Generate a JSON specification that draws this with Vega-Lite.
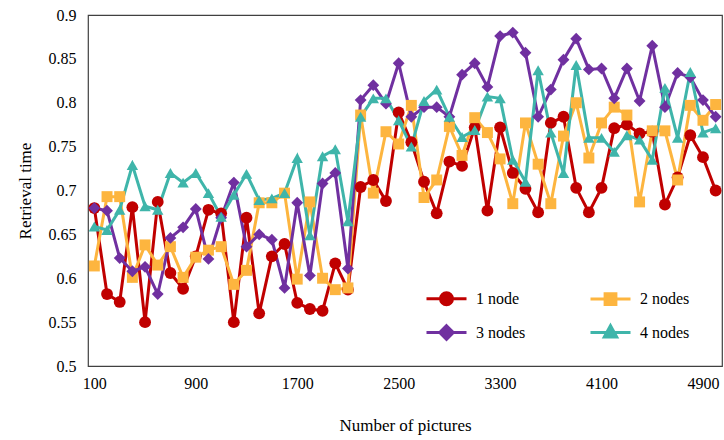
{
"$schema": "https://vega.github.io/schema/vega-lite/v6.json",
"width": 634, "height": 351,
"autosize": "none",
"padding": {"left": 88, "top": 15, "right": 2, "bottom": 74},
"background": "white",
"config": {"view": {"stroke": "#404040", "strokeWidth": 1.2}, "font": "Liberation Serif"},
"data": {"values": [
{"pictures":100,"series":"1 node","time":0.68},{"pictures":200,"series":"1 node","time":0.582},{"pictures":300,"series":"1 node","time":0.573},{"pictures":400,"series":"1 node","time":0.681},{"pictures":500,"series":"1 node","time":0.55},{"pictures":600,"series":"1 node","time":0.687},{"pictures":700,"series":"1 node","time":0.606},{"pictures":800,"series":"1 node","time":0.588},{"pictures":900,"series":"1 node","time":0.625},{"pictures":1000,"series":"1 node","time":0.678},
{"pictures":1100,"series":"1 node","time":0.674},{"pictures":1200,"series":"1 node","time":0.55},{"pictures":1300,"series":"1 node","time":0.669},{"pictures":1400,"series":"1 node","time":0.56},{"pictures":1500,"series":"1 node","time":0.625},{"pictures":1600,"series":"1 node","time":0.639},{"pictures":1700,"series":"1 node","time":0.572},{"pictures":1800,"series":"1 node","time":0.565},{"pictures":1900,"series":"1 node","time":0.563},{"pictures":2000,"series":"1 node","time":0.617},
{"pictures":2100,"series":"1 node","time":0.587},{"pictures":2200,"series":"1 node","time":0.704},{"pictures":2300,"series":"1 node","time":0.712},{"pictures":2400,"series":"1 node","time":0.688},{"pictures":2500,"series":"1 node","time":0.789},{"pictures":2600,"series":"1 node","time":0.755},{"pictures":2700,"series":"1 node","time":0.71},{"pictures":2800,"series":"1 node","time":0.674},{"pictures":2900,"series":"1 node","time":0.733},{"pictures":3000,"series":"1 node","time":0.728},
{"pictures":3100,"series":"1 node","time":0.772},{"pictures":3200,"series":"1 node","time":0.677},{"pictures":3300,"series":"1 node","time":0.772},{"pictures":3400,"series":"1 node","time":0.72},{"pictures":3500,"series":"1 node","time":0.702},{"pictures":3600,"series":"1 node","time":0.675},{"pictures":3700,"series":"1 node","time":0.777},{"pictures":3800,"series":"1 node","time":0.784},{"pictures":3900,"series":"1 node","time":0.703},{"pictures":4000,"series":"1 node","time":0.675},
{"pictures":4100,"series":"1 node","time":0.703},{"pictures":4200,"series":"1 node","time":0.771},{"pictures":4300,"series":"1 node","time":0.775},{"pictures":4400,"series":"1 node","time":0.765},{"pictures":4500,"series":"1 node","time":0.767},{"pictures":4600,"series":"1 node","time":0.684},{"pictures":4700,"series":"1 node","time":0.715},{"pictures":4800,"series":"1 node","time":0.763},{"pictures":4900,"series":"1 node","time":0.738},{"pictures":5000,"series":"1 node","time":0.70},
{"pictures":100,"series":"2 nodes","time":0.614},{"pictures":200,"series":"2 nodes","time":0.693},{"pictures":300,"series":"2 nodes","time":0.693},{"pictures":400,"series":"2 nodes","time":0.601},{"pictures":500,"series":"2 nodes","time":0.638},{"pictures":600,"series":"2 nodes","time":0.615},{"pictures":700,"series":"2 nodes","time":0.636},{"pictures":800,"series":"2 nodes","time":0.601},{"pictures":900,"series":"2 nodes","time":0.624},{"pictures":1000,"series":"2 nodes","time":0.632},
{"pictures":1100,"series":"2 nodes","time":0.636},{"pictures":1200,"series":"2 nodes","time":0.593},{"pictures":1300,"series":"2 nodes","time":0.609},{"pictures":1400,"series":"2 nodes","time":0.686},{"pictures":1500,"series":"2 nodes","time":0.686},{"pictures":1600,"series":"2 nodes","time":0.697},{"pictures":1700,"series":"2 nodes","time":0.599},{"pictures":1800,"series":"2 nodes","time":0.687},{"pictures":1900,"series":"2 nodes","time":0.6},{"pictures":2000,"series":"2 nodes","time":0.587},
{"pictures":2100,"series":"2 nodes","time":0.589},{"pictures":2200,"series":"2 nodes","time":0.786},{"pictures":2300,"series":"2 nodes","time":0.697},{"pictures":2400,"series":"2 nodes","time":0.767},{"pictures":2500,"series":"2 nodes","time":0.753},{"pictures":2600,"series":"2 nodes","time":0.797},{"pictures":2700,"series":"2 nodes","time":0.692},{"pictures":2800,"series":"2 nodes","time":0.712},{"pictures":2900,"series":"2 nodes","time":0.773},{"pictures":3000,"series":"2 nodes","time":0.74},
{"pictures":3100,"series":"2 nodes","time":0.783},{"pictures":3200,"series":"2 nodes","time":0.766},{"pictures":3300,"series":"2 nodes","time":0.736},{"pictures":3400,"series":"2 nodes","time":0.685},{"pictures":3500,"series":"2 nodes","time":0.777},{"pictures":3600,"series":"2 nodes","time":0.73},{"pictures":3700,"series":"2 nodes","time":0.685},{"pictures":3800,"series":"2 nodes","time":0.762},{"pictures":3900,"series":"2 nodes","time":0.8},{"pictures":4000,"series":"2 nodes","time":0.737},
{"pictures":4100,"series":"2 nodes","time":0.777},{"pictures":4200,"series":"2 nodes","time":0.795},{"pictures":4300,"series":"2 nodes","time":0.786},{"pictures":4400,"series":"2 nodes","time":0.687},{"pictures":4500,"series":"2 nodes","time":0.768},{"pictures":4600,"series":"2 nodes","time":0.768},{"pictures":4700,"series":"2 nodes","time":0.712},{"pictures":4800,"series":"2 nodes","time":0.797},{"pictures":4900,"series":"2 nodes","time":0.78},{"pictures":5000,"series":"2 nodes","time":0.798},
{"pictures":100,"series":"3 nodes","time":0.68},{"pictures":200,"series":"3 nodes","time":0.677},{"pictures":300,"series":"3 nodes","time":0.623},{"pictures":400,"series":"3 nodes","time":0.608},{"pictures":500,"series":"3 nodes","time":0.613},{"pictures":600,"series":"3 nodes","time":0.582},{"pictures":700,"series":"3 nodes","time":0.646},{"pictures":800,"series":"3 nodes","time":0.658},{"pictures":900,"series":"3 nodes","time":0.679},{"pictures":1000,"series":"3 nodes","time":0.622},
{"pictures":1100,"series":"3 nodes","time":0.669},{"pictures":1200,"series":"3 nodes","time":0.709},{"pictures":1300,"series":"3 nodes","time":0.636},{"pictures":1400,"series":"3 nodes","time":0.65},{"pictures":1500,"series":"3 nodes","time":0.644},{"pictures":1600,"series":"3 nodes","time":0.589},{"pictures":1700,"series":"3 nodes","time":0.686},{"pictures":1800,"series":"3 nodes","time":0.603},{"pictures":1900,"series":"3 nodes","time":0.708},{"pictures":2000,"series":"3 nodes","time":0.72},
{"pictures":2100,"series":"3 nodes","time":0.611},{"pictures":2200,"series":"3 nodes","time":0.803},{"pictures":2300,"series":"3 nodes","time":0.82},{"pictures":2400,"series":"3 nodes","time":0.799},{"pictures":2500,"series":"3 nodes","time":0.845},{"pictures":2600,"series":"3 nodes","time":0.784},{"pictures":2700,"series":"3 nodes","time":0.795},{"pictures":2800,"series":"3 nodes","time":0.795},{"pictures":2900,"series":"3 nodes","time":0.784},{"pictures":3000,"series":"3 nodes","time":0.832},
{"pictures":3100,"series":"3 nodes","time":0.845},{"pictures":3200,"series":"3 nodes","time":0.818},{"pictures":3300,"series":"3 nodes","time":0.876},{"pictures":3400,"series":"3 nodes","time":0.88},{"pictures":3500,"series":"3 nodes","time":0.857},{"pictures":3600,"series":"3 nodes","time":0.784},{"pictures":3700,"series":"3 nodes","time":0.815},{"pictures":3800,"series":"3 nodes","time":0.849},{"pictures":3900,"series":"3 nodes","time":0.873},{"pictures":4000,"series":"3 nodes","time":0.838},
{"pictures":4100,"series":"3 nodes","time":0.839},{"pictures":4200,"series":"3 nodes","time":0.805},{"pictures":4300,"series":"3 nodes","time":0.839},{"pictures":4400,"series":"3 nodes","time":0.802},{"pictures":4500,"series":"3 nodes","time":0.865},{"pictures":4600,"series":"3 nodes","time":0.795},{"pictures":4700,"series":"3 nodes","time":0.834},{"pictures":4800,"series":"3 nodes","time":0.829},{"pictures":4900,"series":"3 nodes","time":0.803},{"pictures":5000,"series":"3 nodes","time":0.784},
{"pictures":100,"series":"4 nodes","time":0.659},{"pictures":200,"series":"4 nodes","time":0.655},{"pictures":300,"series":"4 nodes","time":0.678},{"pictures":400,"series":"4 nodes","time":0.729},{"pictures":500,"series":"4 nodes","time":0.682},{"pictures":600,"series":"4 nodes","time":0.678},{"pictures":700,"series":"4 nodes","time":0.72},{"pictures":800,"series":"4 nodes","time":0.709},{"pictures":900,"series":"4 nodes","time":0.72},{"pictures":1000,"series":"4 nodes","time":0.697},
{"pictures":1100,"series":"4 nodes","time":0.67},{"pictures":1200,"series":"4 nodes","time":0.695},{"pictures":1300,"series":"4 nodes","time":0.719},{"pictures":1400,"series":"4 nodes","time":0.689},{"pictures":1500,"series":"4 nodes","time":0.691},{"pictures":1600,"series":"4 nodes","time":0.697},{"pictures":1700,"series":"4 nodes","time":0.737},{"pictures":1800,"series":"4 nodes","time":0.649},{"pictures":1900,"series":"4 nodes","time":0.739},{"pictures":2000,"series":"4 nodes","time":0.747},
{"pictures":2100,"series":"4 nodes","time":0.665},{"pictures":2200,"series":"4 nodes","time":0.784},{"pictures":2300,"series":"4 nodes","time":0.805},{"pictures":2400,"series":"4 nodes","time":0.805},{"pictures":2500,"series":"4 nodes","time":0.78},{"pictures":2600,"series":"4 nodes","time":0.75},{"pictures":2700,"series":"4 nodes","time":0.802},{"pictures":2800,"series":"4 nodes","time":0.815},{"pictures":2900,"series":"4 nodes","time":0.784},{"pictures":3000,"series":"4 nodes","time":0.761},
{"pictures":3100,"series":"4 nodes","time":0.769},{"pictures":3200,"series":"4 nodes","time":0.807},{"pictures":3300,"series":"4 nodes","time":0.805},{"pictures":3400,"series":"4 nodes","time":0.735},{"pictures":3500,"series":"4 nodes","time":0.71},{"pictures":3600,"series":"4 nodes","time":0.837},{"pictures":3700,"series":"4 nodes","time":0.766},{"pictures":3800,"series":"4 nodes","time":0.72},{"pictures":3900,"series":"4 nodes","time":0.843},{"pictures":4000,"series":"4 nodes","time":0.76},
{"pictures":4100,"series":"4 nodes","time":0.76},{"pictures":4200,"series":"4 nodes","time":0.744},{"pictures":4300,"series":"4 nodes","time":0.763},{"pictures":4400,"series":"4 nodes","time":0.758},{"pictures":4500,"series":"4 nodes","time":0.735},{"pictures":4600,"series":"4 nodes","time":0.817},{"pictures":4700,"series":"4 nodes","time":0.76},{"pictures":4800,"series":"4 nodes","time":0.835},{"pictures":4900,"series":"4 nodes","time":0.766},{"pictures":5000,"series":"4 nodes","time":0.771}
]},
"encoding": {
  "x": {"field": "pictures", "type": "quantitative",
        "scale": {"domain": [50, 5050], "nice": false, "zero": false},
        "axis": {"values": [100, 900, 1700, 2500, 3300, 4100, 4900], "format": "d", "title": "Number of pictures", "grid": false, "ticks": false, "domain": false, "labelFlush": false,
                 "labelFont": "Liberation Serif", "labelFontSize": 16, "labelColor": "#000", "labelPadding": 9,
                 "titleFont": "Liberation Serif", "titleFontSize": 17, "titleFontWeight": "normal", "titleColor": "#000", "titlePadding": 26}},
  "y": {"field": "time", "type": "quantitative",
        "scale": {"domain": [0.5, 0.9], "nice": false, "zero": false},
        "axis": {"values": [0.5, 0.55, 0.6, 0.65, 0.7, 0.75, 0.8, 0.85, 0.9], "format": ".2~f", "title": "Retrieval time", "grid": false, "ticks": false, "domain": false,
                 "labelFont": "Liberation Serif", "labelFontSize": 16, "labelColor": "#000", "labelPadding": 12,
                 "titleFont": "Liberation Serif", "titleFontSize": 17, "titleFontWeight": "normal", "titleColor": "#000", "titlePadding": 14}}
},
"layer": [
  {"mark": {"type": "line", "strokeWidth": 3},
   "encoding": {"color": {"field": "series", "type": "nominal",
            "scale": {"domain": ["1 node", "2 nodes", "3 nodes", "4 nodes"], "range": ["#C00000", "#FDB53F", "#7030A0", "#3FB5AA"]}, "legend": null}}},
  {"transform": [{"filter": "datum.series === '1 node'"}],
   "mark": {"type": "point", "shape": "circle", "filled": true, "opacity": 1, "size": 140, "color": "#C00000"}},
  {"transform": [{"filter": "datum.series === '2 nodes'"}],
   "mark": {"type": "point", "shape": "square", "filled": true, "opacity": 1, "size": 120, "color": "#FDB53F"}},
  {"transform": [{"filter": "datum.series === '3 nodes'"}],
   "mark": {"type": "point", "shape": "diamond", "filled": true, "opacity": 1, "size": 140, "color": "#7030A0"}},
  {"transform": [{"filter": "datum.series === '4 nodes'"}],
   "mark": {"type": "point", "shape": "triangle-up", "filled": true, "opacity": 1, "size": 130, "color": "#3FB5AA"}},
  {"mark": {"type": "point", "opacity": 0, "size": 10},
   "encoding": {
     "shape": {"field": "series", "type": "nominal",
               "scale": {"domain": ["1 node", "3 nodes", "2 nodes", "4 nodes"],
                         "range": ["M-1,0L1,0M-0.3,0A0.3,0.3 0 1,0 0.3,0A0.3,0.3 0 1,0 -0.3,0Z", "M-1,0L1,0M0,-0.34L0.34,0L0,0.34L-0.34,0Z", "M-1,0L1,0M-0.27,-0.27H0.27V0.27H-0.27Z", "M-1,0L1,0M0,-0.34L0.31,0.22H-0.31Z"]},
               "legend": {"orient": "none", "legendX": 337, "legendY": 262, "columns": 2, "title": null, "padding": 0,
                       "labelFont": "Liberation Serif", "labelFontSize": 16, "labelColor": "#000", "labelOffset": 8,
                       "symbolSize": 1600, "columnPadding": 58, "rowPadding": -4, "symbolStrokeWidth": 3, "symbolOpacity": 1}},
     "fill": {"field": "series", "type": "nominal",
              "scale": {"domain": ["1 node", "3 nodes", "2 nodes", "4 nodes"], "range": ["#C00000", "#7030A0", "#FDB53F", "#3FB5AA"]},
              "legend": {"orient": "none", "legendX": 337, "legendY": 262, "columns": 2, "title": null, "padding": 0,
                       "labelFont": "Liberation Serif", "labelFontSize": 16, "labelColor": "#000", "labelOffset": 8,
                       "symbolSize": 1600, "columnPadding": 58, "rowPadding": -4, "symbolStrokeWidth": 3, "symbolOpacity": 1}},
     "stroke": {"field": "series", "type": "nominal",
              "scale": {"domain": ["1 node", "3 nodes", "2 nodes", "4 nodes"], "range": ["#C00000", "#7030A0", "#FDB53F", "#3FB5AA"]},
              "legend": {"orient": "none", "legendX": 337, "legendY": 262, "columns": 2, "title": null, "padding": 0,
                       "labelFont": "Liberation Serif", "labelFontSize": 16, "labelColor": "#000", "labelOffset": 8,
                       "symbolSize": 1600, "columnPadding": 58, "rowPadding": -4, "symbolStrokeWidth": 3, "symbolOpacity": 1}}
   }}
]
}
